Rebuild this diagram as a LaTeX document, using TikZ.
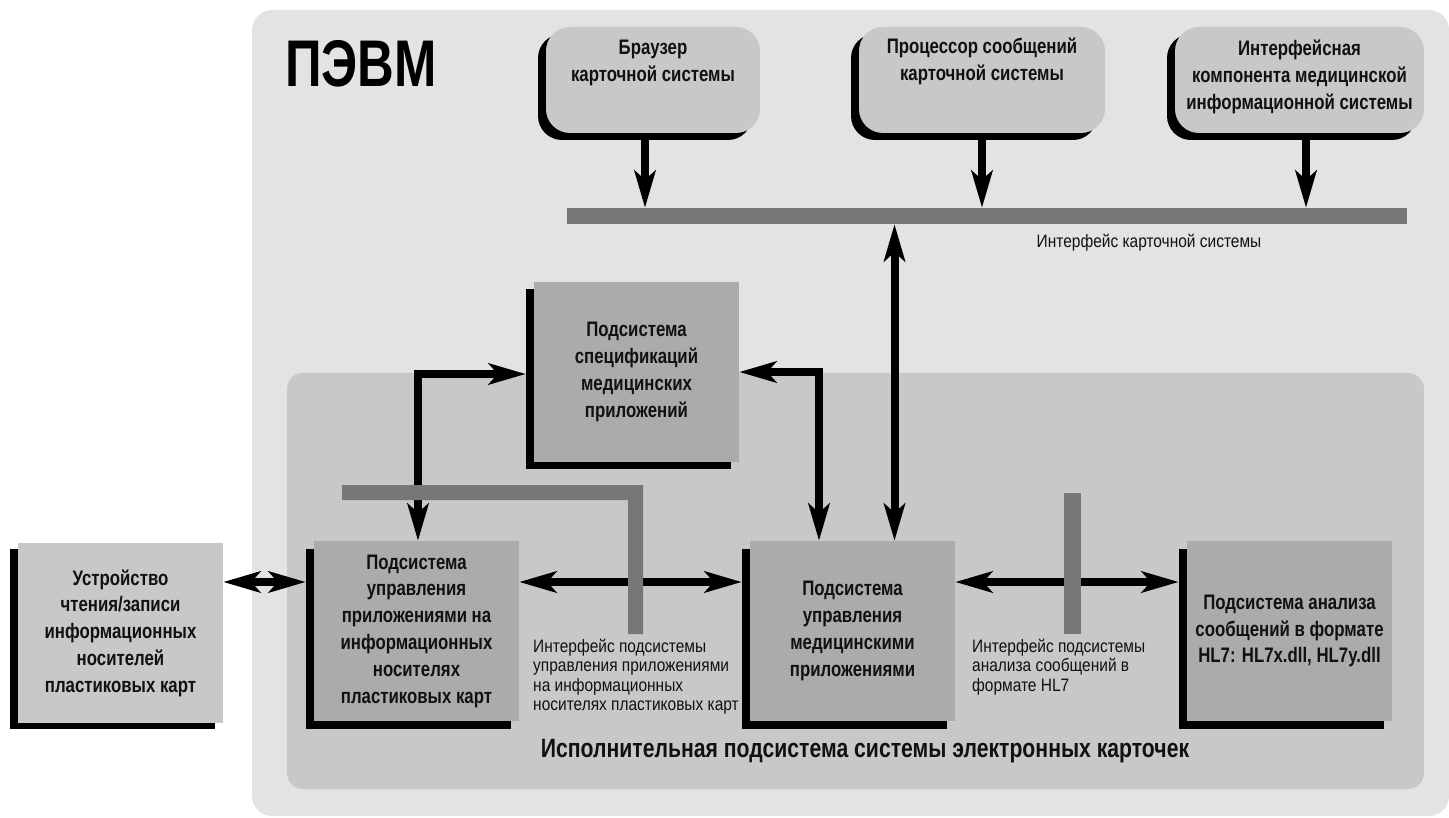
\documentclass[tikz,border=0pt]{standalone}
\usepackage{fontspec}
\setmainfont[FakeStretch=0.8]{Liberation Sans}
\newfontfamily\smallfont[FakeStretch=0.86]{Liberation Sans}
\newfontfamily\pevmfont[FakeStretch=0.77]{Liberation Sans}
\usetikzlibrary{arrows.meta,calc}
\definecolor{bgouter}{HTML}{E3E3E3}
\definecolor{bginner}{HTML}{C8C8C8}
\definecolor{boxlight}{HTML}{C8C8C8}
\definecolor{boxdark}{HTML}{ABABAB}
\definecolor{barc}{HTML}{777777}
\definecolor{txt}{HTML}{111111}
\begin{document}
\begin{tikzpicture}[x=1pt,y=-1pt,
  boldtxt/.style={font=\bfseries\fontsize{21}{26.8}\selectfont, text=txt},
  smalltxt/.style={font=\smallfont\fontsize{18}{19.3}\selectfont, text=txt},
  lowbox/.style={fill=boxdark, minimum width=205pt, minimum height=180pt, inner sep=0pt, align=center, boldtxt},
  lowshadow/.style={fill=black, minimum width=205pt, minimum height=180pt, inner sep=0pt},
  topbox/.style={fill=boxlight, rounded corners=24pt, minimum height=106pt, inner sep=0pt},
  topshadow/.style={fill=black, rounded corners=24pt, minimum height=106pt, inner sep=0pt},
  tip/.tip={Stealth[length=37pt,width=21pt,inset=9pt]},
  arr/.style={line width=8pt, line join=miter, -tip},
  dbl/.style={line width=8pt, line join=miter, tip-tip},
  barnode/.style={fill=barc, inner sep=0pt}
]
\useasboundingbox (0,0) rectangle (1449,818);

% backgrounds
\fill[bgouter, rounded corners=20pt] (252,10) rectangle (1449,816);
\fill[bginner, rounded corners=16pt] (287,373) rectangle (1424,789);

\node[font=\pevmfont\bfseries\fontsize{66}{66}\selectfont, anchor=base west, inner sep=0pt, text=black] (pevm) at (285,87) {ПЭВМ};

% top rounded boxes
\node[topshadow, minimum width=214pt] (brsh) at (645,87) {};
\node[topbox, minimum width=214pt] (br) at (653,80) {};
\node[boldtxt, align=center, anchor=north, inner sep=0pt] (brt) at (653,40) {Браузер\\карточной системы};

\node[topshadow, minimum width=246pt] (prsh) at (974,87) {};
\node[topbox, minimum width=246pt] (pr) at (982,80) {};
\node[boldtxt, align=center, anchor=north, inner sep=0pt] (prt) at (982,38) {Процессор сообщений\\карточной системы};

\node[topshadow, minimum width=249pt] (ifsh) at (1291.5,87) {};
\node[topbox, minimum width=249pt] (if) at (1299.5,80) {};
\node[boldtxt, align=center, anchor=north, inner sep=0pt] (ift) at (1299.5,40) {Интерфейсная\\компонента медицинской\\информационной системы};

% lower boxes
\node[lowshadow] (specsh) at (628.5,379) {};
\node[lowbox] (spec) at (636.5,372) {Подсистема\\спецификаций\\медицинских\\приложений};

\node[lowshadow] (devsh) at (112.5,639) {};
\node[lowbox, fill=boxlight] (dev) at (120.5,633) {Устройство\\чтения/записи\\информационных\\носителей\\пластиковых карт};

\node[lowshadow] (uash) at (408.5,639) {};
\node[lowbox] (ua) at (416.5,631) {Подсистема\\управления\\приложениями на\\информационных\\носителях\\пластиковых карт};

\node[lowshadow] (medsh) at (844.5,639) {};
\node[lowbox] (med) at (852.5,631) {Подсистема\\управления\\медицинскими\\приложениями};

\node[lowshadow] (hlsh) at (1281.5,639) {};
\node[lowbox] (hl) at (1289.5,631) {Подсистема анализа\\сообщений в формате\\HL7: HL7x.dll, HL7y.dll};

% bus
\node[barnode, minimum width=840pt, minimum height=16pt] (bus) at (987,216) {};

% arrows
\draw[arr] (brsh.south) -- (brsh.south |- bus.north);
\draw[arr] (pr.south |- prsh.south) -- (pr.south |- bus.north);
\draw[arr] ([xshift=6.5pt]if.south |- ifsh.south) -- ([xshift=6.5pt]if.south |- bus.north);

\draw[dbl] ([xshift=42pt]med.north) -- ([xshift=42pt]med.north |- bus.south);
\draw[dbl] ([xshift=-33.5pt]med.north) |- (spec.east);
\draw[dbl] ([xshift=1.5pt]ua.north) |- ([yshift=5pt]specsh.west);

\draw[dbl] ([yshift=49pt]ua.east -| dev.east) -- ([yshift=49pt]ua.east -| uash.west);
\draw[dbl] ([yshift=49pt]ua.east) -- ([yshift=49pt]ua.east -| medsh.west);
\draw[dbl] ([yshift=49pt]med.east) -- ([yshift=49pt]med.east -| hlsh.west);

% interface bars
\fill[barc] (342,485) -- (643,485) -- (643,634) -- (628,634) -- (628,500) -- (342,500) -- cycle;
\fill[barc] (1064,493) rectangle (1081,634);

% labels
\node[smalltxt, inner sep=0pt] (busl) at (1149,243) {Интерфейс карточной системы};
\node[smalltxt, align=left, anchor=north west, inner sep=0pt] (ual) at (533,639) {Интерфейс подсистемы\\управления приложениями\\на информационных\\носителях пластиковых карт};
\node[smalltxt, align=left, anchor=north west, inner sep=0pt] (hll) at (972,639) {Интерфейс подсистемы\\анализа сообщений в\\формате HL7};
\node[font=\bfseries\fontsize{26.5}{26.5}\selectfont, text=txt, inner sep=0pt] (title) at (865,751) {Исполнительная подсистема системы электронных карточек};
\end{tikzpicture}
\end{document}
